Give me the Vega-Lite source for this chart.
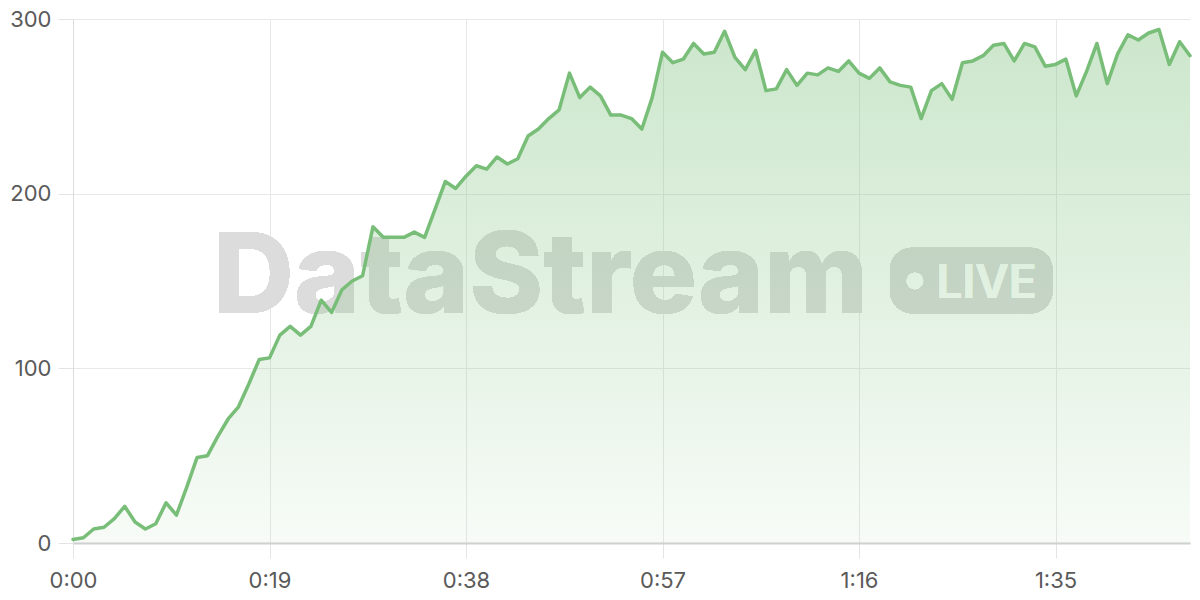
{
  "$schema": "https://vega.github.io/schema/vega-lite/v6.json",
  "width": 1117,
  "height": 524,
  "autosize": {"type": "none"},
  "padding": {"left": 73, "top": 19, "right": 10, "bottom": 57},
  "background": "#ffffff",
  "config": {
    "view": {"stroke": null},
    "font": "Inter",
    "axis": {
      "labelFont": "Inter",
      "labelFontSize": 22,
      "labelColor": "#5a5a5a",
      "labelFlush": false,
      "gridColor": "#e8e8e8",
      "gridWidth": 1,
      "tickColor": "#e4e4e4",
      "tickSize": 15,
      "title": null
    }
  },
  "data": {
    "values": [
      {"t": 0, "v": 2}, {"t": 1, "v": 3}, {"t": 2, "v": 8}, {"t": 3, "v": 9}, {"t": 4, "v": 14},
      {"t": 5, "v": 21}, {"t": 6, "v": 12}, {"t": 7, "v": 8}, {"t": 8, "v": 11}, {"t": 9, "v": 23},
      {"t": 10, "v": 16}, {"t": 11, "v": 32}, {"t": 12, "v": 49}, {"t": 13, "v": 50}, {"t": 14, "v": 61},
      {"t": 15, "v": 71}, {"t": 16, "v": 78}, {"t": 17, "v": 91}, {"t": 18, "v": 105}, {"t": 19, "v": 106},
      {"t": 20, "v": 119}, {"t": 21, "v": 124}, {"t": 22, "v": 119}, {"t": 23, "v": 124}, {"t": 24, "v": 139},
      {"t": 25, "v": 132}, {"t": 26, "v": 145}, {"t": 27, "v": 150}, {"t": 28, "v": 153}, {"t": 29, "v": 181},
      {"t": 30, "v": 175}, {"t": 31, "v": 175}, {"t": 32, "v": 175}, {"t": 33, "v": 178}, {"t": 34, "v": 175},
      {"t": 35, "v": 191}, {"t": 36, "v": 207}, {"t": 37, "v": 203}, {"t": 38, "v": 210}, {"t": 39, "v": 216},
      {"t": 40, "v": 214}, {"t": 41, "v": 221}, {"t": 42, "v": 217}, {"t": 43, "v": 220}, {"t": 44, "v": 233},
      {"t": 45, "v": 237}, {"t": 46, "v": 243}, {"t": 47, "v": 248}, {"t": 48, "v": 269}, {"t": 49, "v": 255},
      {"t": 50, "v": 261}, {"t": 51, "v": 256}, {"t": 52, "v": 245}, {"t": 53, "v": 245}, {"t": 54, "v": 243},
      {"t": 55, "v": 237}, {"t": 56, "v": 255}, {"t": 57, "v": 281}, {"t": 58, "v": 275}, {"t": 59, "v": 277},
      {"t": 60, "v": 286}, {"t": 61, "v": 280}, {"t": 62, "v": 281}, {"t": 63, "v": 293}, {"t": 64, "v": 278},
      {"t": 65, "v": 271}, {"t": 66, "v": 282}, {"t": 67, "v": 259}, {"t": 68, "v": 260}, {"t": 69, "v": 271},
      {"t": 70, "v": 262}, {"t": 71, "v": 269}, {"t": 72, "v": 268}, {"t": 73, "v": 272}, {"t": 74, "v": 270},
      {"t": 75, "v": 276}, {"t": 76, "v": 269}, {"t": 77, "v": 266}, {"t": 78, "v": 272}, {"t": 79, "v": 264},
      {"t": 80, "v": 262}, {"t": 81, "v": 261}, {"t": 82, "v": 243}, {"t": 83, "v": 259}, {"t": 84, "v": 263},
      {"t": 85, "v": 254}, {"t": 86, "v": 275}, {"t": 87, "v": 276}, {"t": 88, "v": 279}, {"t": 89, "v": 285},
      {"t": 90, "v": 286}, {"t": 91, "v": 276}, {"t": 92, "v": 286}, {"t": 93, "v": 284}, {"t": 94, "v": 273},
      {"t": 95, "v": 274}, {"t": 96, "v": 277}, {"t": 97, "v": 256}, {"t": 98, "v": 270}, {"t": 99, "v": 286},
      {"t": 100, "v": 263}, {"t": 101, "v": 280}, {"t": 102, "v": 291}, {"t": 103, "v": 288}, {"t": 104, "v": 292},
      {"t": 105, "v": 294}, {"t": 106, "v": 274}, {"t": 107, "v": 287}, {"t": 108, "v": 279}
    ]
  },
  "layer": [
    {
      "mark": {"type": "text", "text": "DataStream", "font": "Inter", "fontWeight": 800, "fontSize": 112, "fill": "#dcdcdc", "align": "center", "baseline": "alphabetic", "letterSpacing": -3},
      "encoding": {
        "x": {"datum": 45.2, "type": "quantitative"},
        "y": {"datum": 131.7, "type": "quantitative"}
      }
    },
    {
      "mark": {"type": "rect", "fill": "#dadada", "cornerRadius": 22},
      "encoding": {
        "x": {"datum": 79.0, "type": "quantitative"},
        "x2": {"datum": 94.7},
        "y": {"datum": 169.1, "type": "quantitative"},
        "y2": {"datum": 131.5}
      }
    },
    {
      "mark": {"type": "point", "shape": "circle", "filled": true, "fill": "#ffffff", "opacity": 1, "size": 272, "strokeWidth": 0},
      "encoding": {
        "x": {"datum": 81.4, "type": "quantitative"},
        "y": {"datum": 150, "type": "quantitative"}
      }
    },
    {
      "mark": {"type": "text", "text": "LIVE", "font": "Inter", "fontWeight": 600, "fontSize": 46, "fill": "#ffffff", "align": "left", "baseline": "alphabetic"},
      "encoding": {
        "x": {"datum": 83.5, "type": "quantitative"},
        "y": {"datum": 140.3, "type": "quantitative"}
      }
    },
    {
      "mark": {
        "type": "area",
        "fill": {
          "gradient": "linear", "x1": 0, "y1": 0, "x2": 0, "y2": 1,
          "stops": [
            {"offset": 0, "color": "rgba(120,190,120,0.38)"},
            {"offset": 1, "color": "rgba(120,190,120,0.06)"}
          ]
        }
      },
      "encoding": {
        "x": {
          "field": "t", "type": "quantitative",
          "scale": {"domain": [0, 108], "nice": false, "zero": false},
          "axis": {
            "values": [0, 19, 38, 57, 76, 95],
            "labelExpr": "floor(datum.value / 60) + ':' + (datum.value % 60 < 10 ? '0' : '') + (datum.value % 60)",
            "domainColor": "#d0d0d0",
            "domainWidth": 2,
            "labelPadding": 12,
            "grid": true
          }
        },
        "y": {
          "field": "v", "type": "quantitative",
          "scale": {"domain": [0, 300], "nice": false},
          "axis": {
            "values": [0, 100, 200, 300],
            "domainColor": "#dcdcdc",
            "domainWidth": 1,
            "labelPadding": 7,
            "grid": true
          }
        }
      }
    },
    {
      "mark": {"type": "line", "stroke": "#78bd78", "strokeWidth": 3.5, "strokeJoin": "round", "strokeCap": "round"},
      "encoding": {
        "x": {"field": "t", "type": "quantitative"},
        "y": {"field": "v", "type": "quantitative"}
      }
    }
  ]
}
